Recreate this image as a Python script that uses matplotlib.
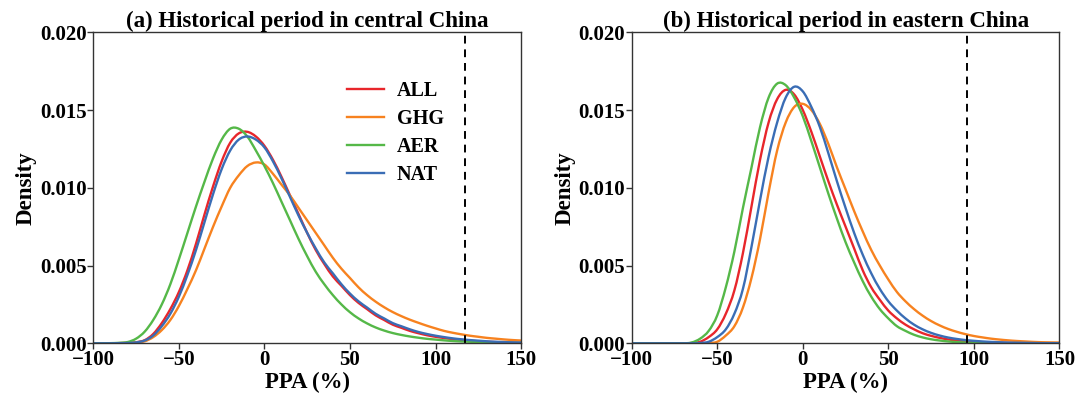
import matplotlib
matplotlib.use("Agg")
import matplotlib.pyplot as plt
from matplotlib.path import Path
from matplotlib.patches import PathPatch
from matplotlib.lines import Line2D
import numpy as np

plt.rcParams['font.family'] = ['Liberation Serif', 'DejaVu Serif']
plt.rcParams['font.weight'] = 'bold'

# PPA grid (%), shared by all series
ppa = list(range(-100, 151, 5))

# ---- panel (a): central China ----
a_all = [0, 0, 0, 0.00001, 0.00003, 0.00007, 0.0002, 0.0006, 0.0013, 0.0022,
         0.0033, 0.0047, 0.0064, 0.0083, 0.0101, 0.0117, 0.0129, 0.0135, 0.0136, 0.0133,
         0.0127, 0.0118, 0.0107, 0.0095, 0.0083, 0.0071, 0.0060, 0.0051, 0.0043, 0.0037,
         0.0031, 0.0026, 0.0022, 0.0018, 0.0015, 0.0012, 0.0010, 0.0008, 0.00065, 0.00052,
         0.00042, 0.00034, 0.00027, 0.00022, 0.00017, 0.00013, 0.0001, 0.00008, 0.00006, 0.00005,
         0.00004]
a_ghg = [0, 0, 0, 0.00001, 0.00003, 0.00006, 0.00013, 0.0004, 0.00085, 0.0015,
         0.0024, 0.0035, 0.0047, 0.0061, 0.0075, 0.0088, 0.0100, 0.0108, 0.0114, 0.01163,
         0.0115, 0.0109, 0.0102, 0.0095, 0.0087, 0.0079, 0.0071, 0.0063, 0.0055, 0.0048,
         0.0042, 0.0036, 0.0031, 0.00268, 0.00232, 0.00201, 0.00175, 0.00152, 0.00132, 0.00113,
         0.00096, 0.0008, 0.00068, 0.00058, 0.00049, 0.00042, 0.00035, 0.0003, 0.00025, 0.00021,
         0.00018]
a_aer = [0, 0, 0.00001, 0.00003, 0.00008, 0.0003, 0.00075, 0.0015, 0.0025, 0.0038,
         0.0054, 0.0071, 0.0088, 0.0104, 0.0119, 0.0131, 0.0138, 0.0138, 0.0133, 0.0124,
         0.0114, 0.0103, 0.0091, 0.0079, 0.0067, 0.0056, 0.0046, 0.0038, 0.0031, 0.0025,
         0.0020, 0.0016, 0.00128, 0.00102, 0.00082, 0.00066, 0.00054, 0.00044, 0.00036, 0.00029,
         0.00024, 0.00019, 0.00015, 0.00012, 0.0001, 0.00008, 0.00006, 0.00005, 0.00004, 0.00003,
         0.00002]
a_nat = [0, 0, 0, 0.00001, 0.00002, 0.00006, 0.00018, 0.0005, 0.0011, 0.0019,
         0.0030, 0.0044, 0.0060, 0.0078, 0.0096, 0.0112, 0.0124, 0.0131, 0.0133, 0.0131,
         0.0126, 0.0117, 0.0106, 0.0094, 0.0082, 0.0071, 0.0061, 0.0052, 0.0045, 0.0038,
         0.0032, 0.0027, 0.0023, 0.0019, 0.0016, 0.0013, 0.0011, 0.0009, 0.00073, 0.0006,
         0.00049, 0.0004, 0.00032, 0.00026, 0.00021, 0.00017, 0.00013, 0.0001, 0.00008, 0.00006,
         0.00005]

# ---- panel (b): eastern China ----
b_all = [0, 0, 0, 0, 0, 0, 0, 0.00002, 0.0001, 0.0004,
         0.0009, 0.0019, 0.0034, 0.0058, 0.0088, 0.0118, 0.0142, 0.0157, 0.0163, 0.0160,
         0.0150, 0.0136, 0.0120, 0.0104, 0.0089, 0.0075, 0.0061, 0.0047, 0.0036, 0.0028,
         0.0021, 0.0016, 0.0012, 0.0009, 0.00065, 0.00048, 0.00035, 0.00025, 0.00018, 0.00013,
         0.0001, 0.00007, 0.00005, 0.00004, 0.00003, 0.00002, 0.00001, 0.00001, 0, 0,
         0]
b_ghg = [0, 0, 0, 0, 0, 0, 0, 0, 0, 0.00002,
         0.0001, 0.0005, 0.0011, 0.0023, 0.0042, 0.0067, 0.0097, 0.0124, 0.0142, 0.0152,
         0.0154, 0.0150, 0.0141, 0.0128, 0.0113, 0.0099, 0.0085, 0.0072, 0.0060, 0.0050,
         0.0041, 0.0033, 0.0027, 0.0022, 0.00178, 0.00143, 0.00115, 0.00092, 0.00074, 0.00059,
         0.00047, 0.00038, 0.0003, 0.00024, 0.00019, 0.00015, 0.00012, 0.00009, 0.00007, 0.00006,
         0.00005]
b_aer = [0, 0, 0, 0, 0, 0, 0, 0.00005, 0.0003, 0.0008,
         0.0018, 0.0036, 0.0059, 0.0087, 0.0113, 0.0139, 0.0158, 0.0167, 0.0166, 0.0158,
         0.0146, 0.0130, 0.0113, 0.0096, 0.0080, 0.0065, 0.0052, 0.0040, 0.0030, 0.0022,
         0.0016, 0.0011, 0.0008, 0.00055, 0.00038, 0.00026, 0.00018, 0.00012, 0.00008, 0.00005,
         0.00003, 0.00002, 0.00002, 0.00001, 0, 0, 0, 0, 0, 0,
         0]
b_nat = [0, 0, 0, 0, 0, 0, 0, 0, 0.00002, 0.0001,
         0.0004, 0.0009, 0.0019, 0.0035, 0.0062, 0.0092, 0.0120, 0.0142, 0.0158, 0.0165,
         0.0162, 0.0152, 0.0139, 0.0122, 0.0104, 0.0087, 0.0071, 0.0057, 0.0045, 0.0035,
         0.0027, 0.0021, 0.0016, 0.0012, 0.0009, 0.00067, 0.0005, 0.00037, 0.00028, 0.00021,
         0.00016, 0.00012, 0.00009, 0.00007, 0.00005, 0.00004, 0.00003, 0.00002, 0.00001, 0.00001,
         0.00001]

labels = ['ALL', 'GHG', 'AER', 'NAT']
colors = ['#e8262b', '#f7821f', '#55b848', '#3a6db5']
titles = ['(a) Historical period in central China', '(b) Historical period in eastern China']
obs_ppa = [117, 96]
xticks = [-100, -50, 0, 50, 100, 150]
yticks = [0.000, 0.005, 0.010, 0.015, 0.020]


def smooth_path(xs, ys):
    """Cubic Bezier path passing through every data point (central-difference tangents)."""
    x = np.asarray(xs, float)
    y = np.asarray(ys, float)
    m = np.gradient(y, x)
    m[(y == 0)] = 0.0
    verts = [(x[0], y[0])]
    codes = [Path.MOVETO]
    for k in range(len(x) - 1):
        h = x[k + 1] - x[k]
        verts += [(x[k] + h / 3, y[k] + m[k] * h / 3),
                  (x[k + 1] - h / 3, y[k + 1] - m[k + 1] * h / 3),
                  (x[k + 1], y[k + 1])]
        codes += [Path.CURVE4] * 3
    return Path(verts, codes)


fig = plt.figure(figsize=(10.88, 3.98), dpi=100)
ax1 = fig.add_axes([0.0858, 0.1374, 0.3931, 0.7814])
ax2 = fig.add_axes([0.5806, 0.1374, 0.3932, 0.7814])

panels = [(ax1, [a_all, a_ghg, a_aer, a_nat]), (ax2, [b_all, b_ghg, b_aer, b_nat])]
for i, (ax, series) in enumerate(panels):
    for lab, col, ys in zip(labels, colors, series):
        ax.add_patch(PathPatch(smooth_path(ppa, ys), fill=False, edgecolor=col,
                               lw=1.7, capstyle='round', joinstyle='round'))
    ax.axvline(obs_ppa[i], color='black', ls=(0, (4, 3)), lw=1.4)
    ax.set_xlim(-100, 150)
    ax.set_ylim(0, 0.020)
    ax.set_xticks(xticks)
    ax.set_xticklabels([('\u2212' + str(-t)) if t < 0 else str(t) for t in xticks])
    ax.set_yticks(yticks)
    ax.set_yticklabels(['%.3f' % t for t in yticks])
    ax.tick_params(labelsize=15, width=1.0, length=4, color='#333333', pad=1)
    for sp in ax.spines.values():
        sp.set_color('#333333')
        sp.set_linewidth(1.0)
    for t in ax.get_xticklabels() + ax.get_yticklabels():
        t.set_fontweight('bold')
    ax.set_xlabel('PPA (%)', fontsize=16.5, fontweight='bold', labelpad=1)
    ax.set_ylabel('Density', fontsize=16.5, fontweight='bold', labelpad=2)
    ax.set_title(titles[i], fontsize=16.5, fontweight='bold', pad=2)

handles = [Line2D([], [], color=c, lw=1.7) for c in colors]
ax1.legend(handles, labels, loc='upper left', bbox_to_anchor=(0.570, 0.875), frameon=False,
           prop={'size': 14.5, 'weight': 'bold'}, handlelength=1.85,
           labelspacing=0.4, borderpad=0, handletextpad=0.6)

fig.savefig('out.png', dpi=100)
